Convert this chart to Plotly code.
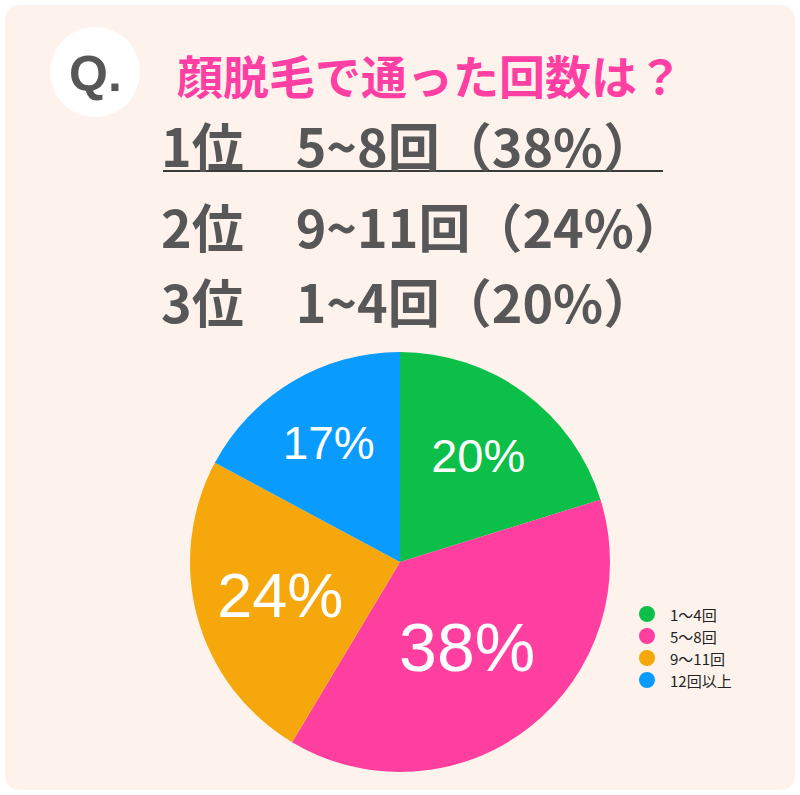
import plotly.graph_objects as go

# data
labels = ["1～4回", "5～8回", "9～11回", "12回以上"]
values = [20, 38, 24, 17]
colors = ["#0bbf48", "#ff3f9f", "#f5a70b", "#0a9bff"]
label_sizes = [47, 68, 63, 46]

title = "顔脱毛で通った回数は？"
ranking = ["1位　5~8回（38%）", "2位　9~11回（24%）", "3位　1~4回（20%）"]

W, H = 800, 795
bg = "#fdf3ec"
gray = "#575757"
jp = "Noto Sans CJK JP"


def px_(v):
    return v / W


def py(v):
    return 1 - v / H


fig = go.Figure()

fig.add_trace(go.Pie(
    labels=labels, values=values, sort=False, direction="clockwise", rotation=0,
    marker=dict(colors=colors, line=dict(width=0)),
    texttemplate="%{value}%", textinfo="text", textposition="inside",
    insidetextorientation="horizontal",
    insidetextfont=dict(color="white", size=label_sizes, family="Liberation Sans, Arial"),
    domain=dict(x=[px_(190), px_(610)], y=[py(772), py(352)]),
    showlegend=False, hoverinfo="label+value"))

# background card with rounded corners
r = 16
x0, y0, x1, y1 = 5, 5, W - 5, H - 5
pts = [("M", x0 + r, y0), ("L", x1 - r, y0), ("Q", x1, y0, x1, y0 + r), ("L", x1, y1 - r),
       ("Q", x1, y1, x1 - r, y1), ("L", x0 + r, y1), ("Q", x0, y1, x0, y1 - r),
       ("L", x0, y0 + r), ("Q", x0, y0, x0 + r, y0)]
path = ""
for p in pts:
    coords = [f"{px_(p[k]):.5f},{py(p[k + 1]):.5f}" for k in range(1, len(p), 2)]
    path += p[0] + " ".join(coords) + " "
path += "Z"

shapes = [
    dict(type="path", xref="paper", yref="paper", layer="below", line=dict(width=0),
         fillcolor=bg, path=path),
    dict(type="circle", xref="paper", yref="paper", layer="below", line=dict(width=0),
         fillcolor="white", x0=px_(50), x1=px_(140), y0=py(117), y1=py(27)),
    dict(type="line", xref="paper", yref="paper", line=dict(color="#3a3a3a", width=2),
         x0=px_(163), x1=px_(663), y0=py(171), y1=py(171)),
]

ann = [
    dict(text="<b>Q.</b>", x=px_(95), y=py(74), xanchor="center",
         font=dict(size=50, color=gray, family="Liberation Sans, Arial")),
    dict(text=f"<b>{title}</b>", x=px_(175), y=py(74), xanchor="left",
         font=dict(size=46, color="#ff3fa3", family=jp)),
]
for txt, yy in zip(ranking, [145, 226, 300]):
    ann.append(dict(text=f"<b>{txt}</b>", x=px_(159), y=py(yy), xanchor="left",
                    font=dict(size=52, color=gray, family=jp)))

# legend: round markers + labels
for k, (name, c) in enumerate(zip(labels, colors)):
    yy = 614 + 22 * k
    shapes.append(dict(type="circle", xref="paper", yref="paper", line=dict(width=0), fillcolor=c,
                       x0=px_(639), x1=px_(655), y0=py(yy + 8), y1=py(yy - 8)))
    ann.append(dict(text=name, x=px_(669), y=py(yy), xanchor="left", borderpad=0,
                    font=dict(size=15, color="#222222", family=jp)))

for a in ann:
    a.update(xref="paper", yref="paper", showarrow=False, yanchor="middle")

fig.update_layout(
    width=W, height=H, margin=dict(l=0, r=0, t=0, b=0),
    paper_bgcolor="white",
    shapes=shapes, annotations=ann,
)

fig.write_html("out.html", config={"displayModeBar": False},
               post_script="document.body.style.margin='0';")
